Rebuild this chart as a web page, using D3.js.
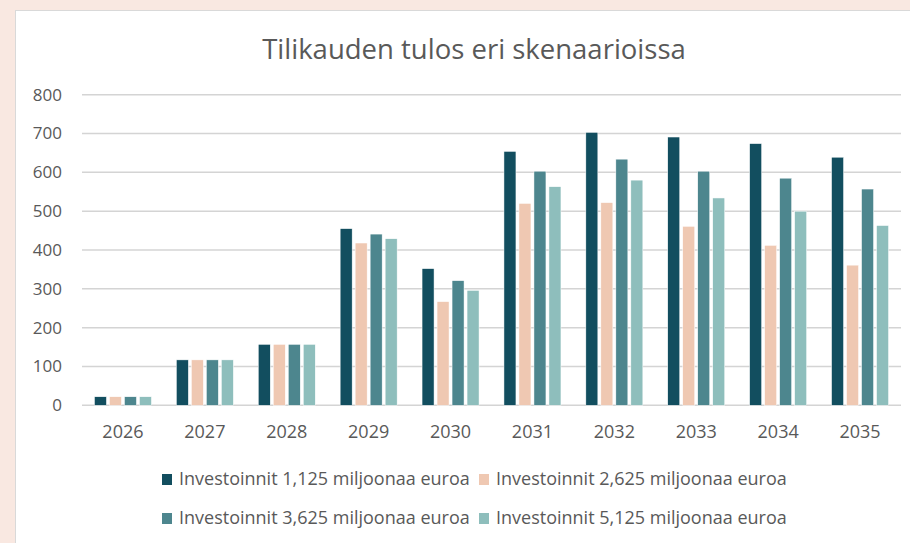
<!DOCTYPE html>
<html>
<head>
<meta charset="utf-8">
<script src="https://cdn.jsdelivr.net/npm/d3@7"></script>
<style>
  html, body { margin: 0; padding: 0; background: #f9e8e1; }
  svg { display: block; font-family: "Open Sans", sans-serif; }
</style>
</head>
<body>
<div id="chart"></div>
<script>
// Data
const years = ['2026', '2027', '2028', '2029', '2030', '2031', '2032', '2033', '2034', '2035'];
const seriesNames = [
    'Investoinnit 1,125 miljoonaa euroa',
    'Investoinnit 2,625 miljoonaa euroa',
    'Investoinnit 3,625 miljoonaa euroa',
    'Investoinnit 5,125 miljoonaa euroa'
];
const inv1125 = [22, 117, 157, 455, 352, 654, 703, 691, 674, 639];
const inv2625 = [22, 117, 157, 418, 267, 520, 522, 461, 412, 361];
const inv3625 = [22, 117, 157, 441, 321, 603, 634, 603, 585, 557];
const inv5125 = [22, 117, 157, 429, 296, 563, 580, 534, 500, 463];
const yTicks = [0, 100, 200, 300, 400, 500, 600, 700, 800];

const seriesValues = [inv1125, inv2625, inv3625, inv5125];
const colors = ['#124e5f', '#efc8b2', '#4d868e', '#8ebebc'];

const width = 910, height = 543;
const svg = d3.select('#chart').append('svg')
    .attr('width', width)
    .attr('height', height);

// chart box
svg.append('rect')
    .attr('x', 15.5).attr('y', 10.5)
    .attr('width', 940).attr('height', 560)
    .attr('fill', '#ffffff')
    .attr('stroke', '#d9d9d9')
    .attr('stroke-width', 1);

// Scales
const x = d3.scaleBand().domain(years).range([82, 901]).padding(0);
const xInner = d3.scaleBand().domain(d3.range(4)).range([-28.5, 28.5]).paddingInner(0.2);
const y = d3.scaleLinear().domain([0, 800]).range([405.3, 94.7]);

// Gridlines
svg.append('g').selectAll('line')
    .data(yTicks)
    .join('line')
    .attr('x1', 82).attr('x2', 901)
    .attr('y1', d => y(d)).attr('y2', d => y(d))
    .attr('stroke', '#d4d4d4')
    .attr('stroke-width', 1.5);

// Y labels
svg.append('g').selectAll('text')
    .data(yTicks)
    .join('text')
    .attr('x', 62)
    .attr('y', d => y(d))
    .attr('dy', '0.35em')
    .attr('text-anchor', 'end')
    .style('font-size', '17px')
    .style('fill', '#595959')
    .text(d => d);

// Bars
seriesValues.forEach((vals, s) => {
    svg.append('g').selectAll('rect')
        .data(vals)
        .join('rect')
        .attr('x', (d, i) => x(years[i]) + x.bandwidth() / 2 + xInner(s))
        .attr('width', xInner.bandwidth())
        .attr('y', d => y(d))
        .attr('height', d => y(0) - y(d))
        .attr('fill', colors[s])
        .attr('stroke', '#ffffff')
        .attr('stroke-width', 0.5);
});

// X labels
svg.append('g').selectAll('text')
    .data(years)
    .join('text')
    .attr('x', d => x(d) + x.bandwidth() / 2)
    .attr('y', 438)
    .attr('text-anchor', 'middle')
    .style('font-size', '18px')
    .style('fill', '#595959')
    .text(d => d);

// Title
svg.append('text')
    .attr('x', 474)
    .attr('y', 59)
    .attr('text-anchor', 'middle')
    .style('font-size', '27.5px')
    .style('fill', '#595959')
    .text('Tilikauden tulos eri skenaarioissa');

// Legend
const legendPos = [[162, 485], [479, 485], [162, 524], [479, 524]];
seriesNames.forEach((name, i) => {
    const g = svg.append('g')
        .attr('transform', `translate(${legendPos[i][0]},${legendPos[i][1]})`);
    g.append('rect')
        .attr('x', 0).attr('y', -11)
        .attr('width', 10).attr('height', 11)
        .attr('fill', colors[i]);
    g.append('text')
        .attr('x', 17)
        .attr('y', 0)
        .style('font-size', '18px')
        .style('fill', '#595959')
        .text(name);
});
</script>
</body>
</html>
